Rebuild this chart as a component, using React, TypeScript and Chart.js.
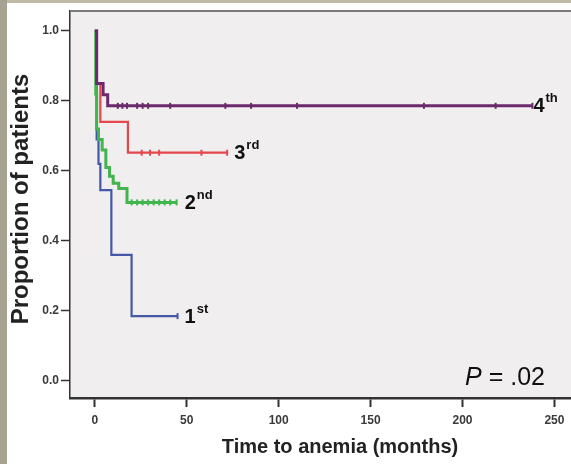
import React, { useEffect, useRef } from 'react';
import { Chart, registerables } from 'chart.js';

Chart.register(...registerables);

// Axis ticks
const xTicks = [0, 50, 100, 150, 200, 250];
const yTicks = [0, 0.2, 0.4, 0.6, 0.8, 1.0];

// 1st group (blue)
const g1Times = [0, 1, 2, 3, 9, 20, 45];
const g1Surv = [1.0, 0.69, 0.62, 0.545, 0.36, 0.185, 0.185];
const g1Censor = [45];

// 2nd group (green)
const g2Times = [0, 0.5, 1, 2, 4, 6, 8, 10, 13, 17.5, 44.5];
const g2Surv = [1.0, 0.82, 0.72, 0.69, 0.66, 0.61, 0.585, 0.565, 0.55, 0.51, 0.51];
const g2Censor = [20, 23, 26, 29, 32, 35, 38, 41, 44.5];

// 3rd group (red)
const g3Times = [0, 1, 3, 18, 72];
const g3Surv = [1.0, 0.85, 0.74, 0.652, 0.652];
const g3Censor = [25.5, 30, 35, 58, 72];

// 4th group (purple)
const g4Times = [0, 1, 4.5, 7, 238];
const g4Surv = [1.0, 0.85, 0.818, 0.786, 0.786];
const g4Censor = [12.5, 15, 17.5, 23, 26, 29, 41, 71, 85, 110, 179, 218, 238];

const groupNums = ['1', '2', '3', '4'];
const groupSuffix = ['st', 'nd', 'rd', 'th'];
const groupColors = ['#4458a6', '#42b54e', '#e4474c', '#6b2a6c'];
const pText = '.02';

const FONT = '"Liberation Sans", Arial, sans-serif';
const labelOffsets = [7, 8, 7, 1];

const groups = [
  { times: g1Times, surv: g1Surv, censor: g1Censor },
  { times: g2Times, surv: g2Surv, censor: g2Censor },
  { times: g3Times, surv: g3Surv, censor: g3Censor },
  { times: g4Times, surv: g4Surv, censor: g4Censor },
];

function survAt(times: number[], surv: number[], t: number) {
  let v = surv[0];
  for (let i = 0; i < times.length; i++) {
    if (times[i] <= t) v = surv[i];
  }
  return v;
}

const framePlugin = {
  id: 'frame',
  beforeDraw(chart: any) {
    const { ctx, chartArea, width, height } = chart;
    ctx.save();
    ctx.fillStyle = '#ffffff';
    ctx.fillRect(0, 0, width, height);
    ctx.fillStyle = '#c0bba8';
    ctx.fillRect(0, 0, width, 3);
    ctx.fillStyle = '#a6a291';
    ctx.fillRect(0, 0, 7, height);
    ctx.fillStyle = '#f0eeee';
    ctx.fillRect(chartArea.left, chartArea.top, chartArea.right - chartArea.left, chartArea.bottom - chartArea.top);
    ctx.restore();
  },
  afterDraw(chart: any) {
    const { ctx, chartArea } = chart;
    const xs = chart.scales.x;
    const ys = chart.scales.y;
    ctx.save();
    // top border
    ctx.strokeStyle = '#7a7a7a';
    ctx.lineWidth = 2;
    ctx.beginPath();
    ctx.moveTo(chartArea.left, chartArea.top);
    ctx.lineTo(chartArea.right, chartArea.top);
    ctx.stroke();

    // group labels
    ctx.fillStyle = '#111';
    ctx.textBaseline = 'middle';
    ctx.textAlign = 'left';
    groups.forEach((g, i) => {
      const tEnd = g.times[g.times.length - 1];
      const sEnd = g.surv[g.surv.length - 1];
      const px = xs.getPixelForValue(tEnd) + labelOffsets[i];
      const py = ys.getPixelForValue(sEnd) + 1;
      ctx.font = `bold 20px ${FONT}`;
      ctx.fillText(groupNums[i], px, py);
      const w = ctx.measureText(groupNums[i]).width;
      ctx.font = `bold 13px ${FONT}`;
      ctx.fillText(groupSuffix[i], px + w + 1, py - 8);
    });

    // P value
    ctx.textBaseline = 'alphabetic';
    ctx.font = `italic 25px ${FONT}`;
    const wP = ctx.measureText('P').width;
    ctx.font = `25px ${FONT}`;
    const rest = ' = ' + pText;
    const wR = ctx.measureText(rest).width;
    const right = 545;
    const startX = right - wP - wR;
    ctx.font = `italic 25px ${FONT}`;
    ctx.fillText('P', startX, 385);
    ctx.font = `25px ${FONT}`;
    ctx.fillText(rest, startX + wP, 385);

    // axis titles
    ctx.fillStyle = '#222';
    ctx.font = `bold 20px ${FONT}`;
    ctx.textAlign = 'center';
    ctx.textBaseline = 'middle';
    ctx.fillText('Time to anemia (months)', 340, 447);

    ctx.translate(28, 199);
    ctx.rotate(-Math.PI / 2);
    ctx.textBaseline = 'alphabetic';
    ctx.font = `bold 24px ${FONT}`;
    ctx.fillText('Proportion of patients', 0, 0);
    ctx.restore();
  },
};

export default function App() {
  const ref = useRef<HTMLCanvasElement>(null);
  useEffect(() => {
    if (!ref.current) return;
    const datasets: any[] = [];
    // draw order: purple on top
    [3, 2, 1, 0].forEach((gi, k) => {
      const g = groups[gi];
      datasets.push({
        label: groupNums[gi] + groupSuffix[gi],
        data: g.times.map((t, j) => ({ x: t, y: g.surv[j] })),
        borderColor: groupColors[gi],
        borderWidth: gi === 3 ? 3 : gi === 1 ? 3 : 2.2,
        stepped: 'before',
        pointRadius: 0,
        fill: false,
        order: k * 2 + 1,
      });
      datasets.push({
        label: groupNums[gi] + ' censored',
        data: g.censor.map((t) => ({ x: t, y: survAt(g.times, g.surv, t) })),
        showLine: false,
        pointStyle: 'line',
        rotation: 90,
        pointRadius: 3,
        borderColor: groupColors[gi],
        backgroundColor: groupColors[gi],
        pointBorderWidth: 2,
        order: k * 2,
      });
    });

    const chart = new Chart(ref.current, {
      type: 'line',
      data: { datasets },
      plugins: [framePlugin],
      options: {
        animation: false,
        responsive: false,
        maintainAspectRatio: false,
        layout: { autoPadding: false, padding: { top: 11, left: 0, right: 0, bottom: 0 } },
        plugins: { legend: { display: false }, tooltip: { enabled: false } },
        scales: {
          x: {
            type: 'linear',
            position: 'bottom',
            min: -13.5,
            max: 259,
            afterBuildTicks: (s: any) => {
              s.ticks = xTicks.map((v) => ({ value: v }));
            },
            afterFit: (s: any) => {
              s.height = 66;
            },
            grid: { display: true, drawOnChartArea: false, drawTicks: true, tickLength: 9, tickColor: '#333', tickWidth: 2 },
            border: { display: true, color: '#333', width: 2.5 },
            ticks: { color: '#3a3a3a', font: { family: FONT, size: 12, weight: 'bold' }, padding: 6, callback: (v: any) => String(v) },
          },
          y: {
            type: 'linear',
            min: -0.049,
            max: 1.057,
            afterBuildTicks: (s: any) => {
              s.ticks = yTicks.map((v) => ({ value: v }));
            },
            afterFit: (s: any) => {
              s.width = 70;
            },
            grid: { display: true, drawOnChartArea: false, drawTicks: true, tickLength: 9, tickColor: '#333', tickWidth: 1.5 },
            border: { display: true, color: '#333', width: 1.5 },
            ticks: { color: '#3a3a3a', font: { family: FONT, size: 12, weight: 'bold' }, padding: 2, callback: (v: any) => Number(v).toFixed(1) },
          },
        },
      },
    });
    return () => chart.destroy();
  }, []);
  return (
    <div style={{ position: 'fixed', left: 0, top: 0, width: 571, height: 464 }}>
      <canvas ref={ref} width={571} height={464} style={{ display: 'block', width: 571, height: 464 }} />
    </div>
  );
}
